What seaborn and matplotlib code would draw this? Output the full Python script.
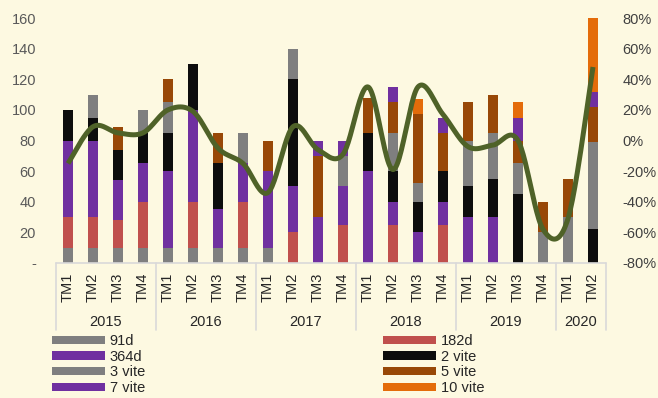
import numpy as np
import pandas as pd
import matplotlib
matplotlib.use("Agg")
import matplotlib.pyplot as plt
import matplotlib.transforms as mtransforms
from matplotlib.lines import Line2D
from matplotlib.patches import Patch
import seaborn as sns

# ---- data -------------------------------------------------------------
years = ["2015", "2016", "2017", "2018", "2019", "2020"]
quarters_per_year = [4, 4, 4, 4, 4, 2]
quarters = ["TM1", "TM2", "TM3", "TM4"] * 5 + ["TM1", "TM2"]

series_names = ["91d", "182d", "364d", "2 vite", "3 vite", "5 vite", "7 vite", "10 vite"]
s_91d    = [10, 10, 10, 10, 10, 10, 10, 10, 10, 0, 0, 0, 0, 0, 0, 0, 0, 0, 0, 0, 0, 0]
s_182d   = [20, 20, 18, 30, 0, 30, 0, 30, 0, 20, 0, 25, 0, 25, 0, 25, 0, 0, 0, 0, 0, 0]
s_364d   = [50, 50, 26, 25, 50, 60, 25, 25, 50, 30, 30, 25, 60, 15, 20, 15, 30, 30, 0, 0, 0, 0]
s_2vite  = [20, 15, 20, 20, 25, 30, 30, 0, 0, 70, 0, 0, 25, 20, 20, 20, 20, 25, 45, 0, 0, 22]
s_3vite  = [0, 15, 0, 15, 20, 0, 0, 20, 0, 20, 0, 20, 0, 25, 12, 0, 30, 30, 20, 20, 30, 57]
s_5vite  = [0, 0, 15, 0, 15, 0, 20, 0, 20, 0, 40, 0, 23, 20, 45, 25, 25, 25, 15, 20, 25, 23]
s_7vite  = [0, 0, 0, 0, 0, 0, 0, 0, 0, 0, 10, 10, 0, 10, 0, 10, 0, 0, 15, 0, 0, 10]
s_10vite = [0, 0, 0, 0, 0, 0, 0, 0, 0, 0, 0, 0, 0, 0, 10, 0, 0, 0, 10, 0, 0, 48]

# growth rate (%), right axis
growth = [-15, 9, 5, 5, 20, 19, -5, -15, -34, 9, -6, -9, 35, -19, 35, 17, -4, -3, 0, -58, -51, 48]

series_colors = ["#7F7F7F", "#C0504D", "#7030A0", "#0D0D0D",
                 "#7F7F7F", "#984807", "#7030A0", "#E46C0A"]
line_color = "#4F6228"
bg = "#FDF9E1"

# ---- build table ------------------------------------------------------
period_labels = []
for y, n in zip(years, quarters_per_year):
    period_labels += [f"{y} {q}" for q in ["TM1", "TM2", "TM3", "TM4"][:n]]

df = pd.DataFrame(
    {name: vals for name, vals in zip(
        series_names,
        [s_91d, s_182d, s_364d, s_2vite, s_3vite, s_5vite, s_7vite, s_10vite])},
    index=period_labels)
cum = df.cumsum(axis=1)

# ---- style ------------------------------------------------------------
sns.set_theme(style="white")
plt.rcParams["font.family"] = ["Liberation Sans", "DejaVu Sans"]

fig = plt.figure(figsize=(6.58, 3.98), dpi=100, facecolor=bg)
ax = fig.add_axes([55.5 / 658, 135 / 398, 550 / 658, 245 / 398])
ax.set_facecolor(bg)

# stacked bars: draw cumulative totals from the top layer downwards
for name, color in reversed(list(zip(series_names, series_colors))):
    sns.barplot(x=period_labels, y=cum[name].values, color=color,
                saturation=1, width=0.4, linewidth=0, ax=ax)

ax.set_xlim(-0.5, len(period_labels) - 0.5)
ax.set_ylim(0, 160)
ax.set_yticks(np.arange(0, 161, 20))
ax.set_yticklabels(["-"] + [str(v) for v in range(20, 161, 20)])
ax.tick_params(axis="y", length=0, pad=14, labelsize=10.5, labelcolor="#595959")
ax.set_xticks([])
ax.set_xlabel("")
ax.set_ylabel("")
for s in ax.spines.values():
    s.set_visible(False)


# smoothed growth line on the secondary axis
def smooth_curve(xs, ys, steps=24):
    pts = np.column_stack([xs, ys]).astype(float)
    ext = np.vstack([pts[0], pts, pts[-1]])
    out = []
    t = np.linspace(0, 1, steps, endpoint=False)[:, None]
    for i in range(len(pts) - 1):
        p0, p1, p2, p3 = ext[i], ext[i + 1], ext[i + 2], ext[i + 3]
        seg = 0.5 * (2 * p1 + (-p0 + p2) * t
                     + (2 * p0 - 5 * p1 + 4 * p2 - p3) * t ** 2
                     + (-p0 + 3 * p1 - 3 * p2 + p3) * t ** 3)
        out.append(seg)
    out.append(pts[-1:])
    return np.vstack(out)


ax2 = ax.twinx()
ax2.patch.set_visible(False)
curve = smooth_curve(np.arange(len(growth)), growth)
sns.lineplot(x=curve[:, 0], y=curve[:, 1], sort=False, color=line_color,
             linewidth=3.6, ax=ax2, solid_capstyle="butt")
ax2.set_ylim(-80, 80)
ax2.set_yticks(np.arange(-80, 81, 20))
ax2.set_yticklabels([f"{v}%" for v in range(-80, 81, 20)])
ax2.tick_params(axis="y", length=0, pad=12, labelsize=10.5, labelcolor="#404040")
ax2.set_ylabel("")
ax2.set_xlim(-0.5, len(period_labels) - 0.5)
for s in ax2.spines.values():
    s.set_visible(False)

# ---- two-level category axis -------------------------------------------
trans = mtransforms.blended_transform_factory(ax.transData, fig.transFigure)
axis_y = 135 / 398
sep_bottom = (398 - 330) / 398
grid_col = "#D9D9D9"
ax.add_line(Line2D([-0.5, len(period_labels) - 0.5], [axis_y, axis_y],
                   transform=trans, color=grid_col, lw=1.2, clip_on=False))

for i, q in enumerate(quarters):
    ax.text(i, (398 - 287) / 398, q, transform=trans, rotation=90,
            ha="center", va="center", fontsize=10.5, color="#262626")

start = 0
bounds = [-0.5]
for y, n in zip(years, quarters_per_year):
    centre = start + (n - 1) / 2
    ax.text(centre, (398 - 322) / 398, y, transform=trans, ha="center",
            va="center", fontsize=10.5, color="#262626")
    start += n
    bounds.append(start - 0.5)
for b in bounds:
    ax.add_line(Line2D([b, b], [axis_y, sep_bottom], transform=trans,
                       color=grid_col, lw=1.2, clip_on=False))

# ---- legend ---------------------------------------------------------------
handles = [Patch(facecolor=c, edgecolor="none", label=n)
           for n, c in zip(series_names, series_colors)]
left_cols = [0, 2, 4, 6]
right_cols = [1, 3, 5, 7]
legend_kw = dict(frameon=False, fontsize=10.5, handlelength=3.6,
                 handleheight=0.5, handletextpad=0.35, labelspacing=0.12,
                 borderpad=0, borderaxespad=0, loc="upper left",
                 labelcolor="#262626")
leg1 = fig.legend(handles=[handles[i] for i in left_cols],
                  bbox_to_anchor=(52 / 658, (398 - 334) / 398), **legend_kw)
leg2 = fig.legend(handles=[handles[i] for i in right_cols],
                  bbox_to_anchor=(383 / 658, (398 - 334) / 398), **legend_kw)

fig.savefig("out.png", dpi=100, facecolor=bg)
